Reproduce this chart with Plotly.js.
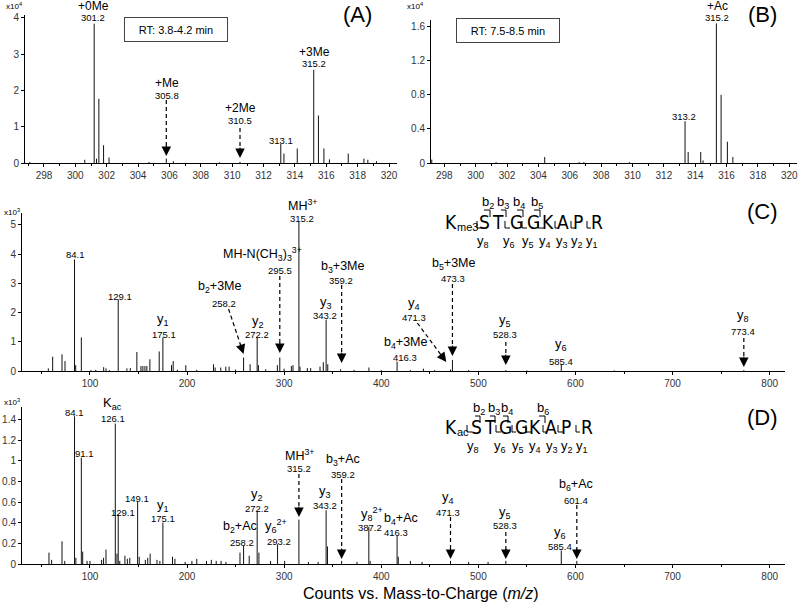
<!DOCTYPE html>
<html><head><meta charset="utf-8">
<script src="https://cdn.plot.ly/plotly-3.0.1.min.js"></script>
<style>html,body{margin:0;padding:0;background:#fff}#chart{width:800px;height:603px}</style>
</head><body><div id="chart"></div>
<script>
// ---------- data (m/z, intensity in units of the axis multiplier) ----------
const mzA  = [297.1, 300.6, 301.2, 301.35, 301.5, 301.8, 302.15, 304.7, 305.8, 306.25, 309.2, 310.5, 313.1, 313.3, 314.15, 315.2, 315.5, 315.85, 316.2, 317.4, 318.4, 318.65, 319.2];
const intA = [0.03, 0.09, 3.84, 0.12, 1.77, 0.49, 0.15, 0.03, 0.12, 0.05, 0.02, 0.03, 0.53, 0.26, 0.40, 2.57, 1.31, 0.40, 0.10, 0.26, 0.12, 0.09, 0.05];

const mzB  = [297.2, 301.3, 304.4, 306.6, 306.9, 309.8, 313.35, 313.55, 314.35, 314.5, 315.35, 315.65, 316.05, 316.4];
const intB = [0.04, 0.01, 0.07, 0.01, 0.01, 0.01, 0.49, 0.13, 0.13, 0.03, 1.64, 0.80, 0.25, 0.07];

const mzC  = [57.1, 61.6, 71.2, 74.3, 84.1, 85.3, 91.1, 101, 106, 114.1, 116.5, 120, 129.1, 138, 141.5, 148.3, 152.5, 154.5, 156.6, 158.6, 161.7, 171.3, 175.1, 184, 185.7, 190, 198.7, 210, 227.2, 228.9, 234.7, 239.9, 243.3, 250, 258.2, 264.9, 272.2, 273.5, 281, 293, 295.5, 299.9, 307.4, 309.1, 315.2, 316.3, 323.9, 327.3, 336.9, 340.3, 343.2, 344.9, 358.1, 372, 387.3, 400, 416.3, 430, 443.4, 455, 471.3, 473.3, 490, 528.3, 550, 585.4, 640, 773.4];
const intC = [0.09, 0.49, 0.57, 0.34, 3.82, 0.2, 1.15, 0.03, 0.04, 0.13, 0.09, 0.03, 2.45, 0.09, 0.1, 0.65, 0.17, 0.17, 0.17, 0.17, 0.4, 0.67, 1.15, 0.2, 0.34, 0.04, 0.2, 0.04, 0.23, 0.12, 0.12, 0.15, 0.15, 0.05, 0.46, 0.23, 1.15, 0.2, 0.06, 0.2, 0.46, 0.08, 0.17, 0.2, 5.1, 0.15, 0.1, 0.1, 0.15, 0.3, 1.76, 0.23, 0.06, 0.04, 0.12, 0.03, 0.32, 0.03, 0.08, 0.03, 0.05, 0.38, 0.03, 0.03, 0.02, 0.24, 0.02, 0.03];

const mzD  = [57.8, 60.5, 71.2, 74, 84.1, 85.5, 91.1, 92.5, 97, 100, 112, 114, 116.5, 126.1, 127.8, 129.1, 130.7, 136, 138.5, 141, 149.1, 150.7, 157, 159.5, 162, 169, 172, 175.1, 185, 187.5, 198, 205, 210, 220, 225, 230, 235, 240, 254.5, 258.2, 264, 272.2, 274, 286, 293.2, 300.5, 315.2, 325, 335, 343.2, 344.6, 359.2, 375, 387.2, 388.5, 416.3, 417.5, 430, 442, 471.3, 490, 510, 528.3, 585.4, 601.4];
const intD = [0.11, 0.04, 0.22, 0.03, 1.43, 0.06, 1.03, 0.12, 0.03, 0.03, 0.04, 0.06, 0.14, 1.36, 0.1, 0.48, 0.03, 0.08, 0.05, 0.06, 0.6, 0.07, 0.04, 0.06, 0.1, 0.04, 0.03, 0.40, 0.07, 0.05, 0.02, 0.03, 0.05, 0.03, 0.04, 0.03, 0.03, 0.02, 0.11, 0.18, 0.08, 0.51, 0.11, 0.03, 0.19, 0.03, 0.43, 0.02, 0.02, 0.52, 0.17, 0.03, 0.02, 0.36, 0.03, 0.27, 0.07, 0.03, 0.02, 0.03, 0.02, 0.02, 0.03, 0.13, 0.03];

const residues = ['K','S','T','G','G','K','A','P','R'];

// ---------- helpers ----------
const W = 800, H = 603;
const FONT = 'Arial, "Liberation Sans", Helvetica, sans-serif';
const NARROW = '"Liberation Sans Narrow", "Arial Narrow", "DejaVu Sans Condensed", Arial, sans-serif';
const px = p => p / W, py = p => 1 - p / H;

function sticks(mz, inten, xa, ya) {
  const x = [], y = [];
  mz.forEach((m, i) => { x.push(m, m, null); y.push(0, inten[i], null); });
  return {type:'scatter', mode:'lines', x, y, xaxis:xa, yaxis:ya,
          line:{color:'#111', width:1}, hoverinfo:'skip', showlegend:false};
}
const tickfont = {family:FONT, size:10, color:'#333'};
function xax(l, r, range, dtick, minorD, anchor) {
  return {domain:[px(l), px(r)], range, tick0:0, dtick, anchor,
    ticks:'outside', ticklen:3, tickwidth:1, tickcolor:'#000',
    showline:true, linecolor:'#000', linewidth:1, showgrid:false, zeroline:false,
    tickfont, minor:{ticks:'outside', ticklen:2, dtick:minorD, tick0:0, tickcolor:'#000', showgrid:false},
    fixedrange:true};
}
function yax(top, bot, range, dtick, anchor) {
  return {domain:[py(bot), py(top)], range, tick0:0, dtick, anchor,
    ticks:'outside', ticklen:3, tickwidth:1, tickcolor:'#000',
    showline:true, linecolor:'#000', linewidth:1, showgrid:false, zeroline:false,
    tickfont, fixedrange:true};
}
const annotations = [], shapes = [];
function lab(t, x, y, size, extra, fam) {
  annotations.push(Object.assign({text:t, xref:'paper', yref:'paper', x:px(x), y:py(y),
    xanchor:'center', yanchor:'middle', showarrow:false,
    font:{family:fam || FONT, size:size, color:'#000'}}, extra || {}));
}
// dashed arrow: tip at data m/z on axis xa, tip/tail heights in pixels, dx = tail x offset in px
function arrow(xa, mz, tail, tip, dx) {
  const dy = tail - tip, len = Math.hypot(dx, dy), ux = dx / len, uy = dy / len;
  const head = 9;
  shapes.push({type:'line', xref:xa, yref:'paper', xsizemode:'pixel', xanchor:mz,
    x0:dx, x1:ux * head, y0:py(tail), y1:py(tip + uy * head),
    line:{color:'#000', width:1.2, dash:'4px,3px'}});
  annotations.push({text:'', xref:xa, yref:'paper', x:mz, y:py(tip), showarrow:true,
    arrowhead:2, arrowsize:1.9, arrowwidth:1, arrowcolor:'#000', standoff:0,
    ax:ux * 12, ay:uy * 12});
}
function path(d) { shapes.push({type:'path', xref:'paper', yref:'paper', path:d, line:{color:'#000', width:1}}); }
function bBr(x0, x1, top, bot) { path(`M${px(x0)},${py(top)}L${px(x1)},${py(top)}L${px(x1)},${py(bot)}`); }
function yBr(x0, x1, top, bot) { path(`M${px(x0)},${py(top)}L${px(x0)},${py(bot)}L${px(x1)},${py(bot)}`); }

// ---------- panel A ----------
lab('x10<sup>4</sup>', 14, 6, 8);
lab('+0Me', 93, 6, 12); lab('301.2', 93, 18, 9.5);
lab('+Me', 167, 83, 12); lab('305.8', 167, 96, 9.5);
lab('+2Me', 240, 108, 12); lab('310.5', 240, 121, 9.5);
lab('313.1', 281, 140, 9.5);
lab('+3Me', 314, 52, 12); lab('315.2', 314, 64, 9.5);
lab('(A)', 357, 14, 22);
lab('RT: 3.8-4.2 min', 175.5, 29, 11, {bordercolor:'#444', borderwidth:1, borderpad:2, width:98, height:19, bgcolor:'#fff'});
arrow('x', 305.8, 100, 156, 0);
arrow('x', 310.5, 128, 158, 0);

// ---------- panel B ----------
lab('x10<sup>4</sup>', 415, 6, 8);
lab('+Ac', 717, 6, 12); lab('315.2', 717, 18, 9.5);
lab('313.2', 684, 116, 9.5);
lab('(B)', 762, 14, 22);
lab('RT: 7.5-8.5 min', 507.5, 31, 11, {bordercolor:'#444', borderwidth:1, borderpad:2, width:98, height:19, bgcolor:'#fff'});

// ---------- panel C ----------
lab('x10<sup>3</sup>', 12, 212, 8);
lab('84.1', 75, 254, 9.5);
lab('129.1', 120, 296, 9.5);
lab('y<sub>1</sub>', 163, 319, 13); lab('175.1', 164, 334, 9.5);
lab('b<sub>2</sub>+3Me', 219, 287, 12.5); lab('258.2', 224, 303, 9.5);
lab('y<sub>2</sub>', 258, 321, 13); lab('272.2', 257, 334, 9.5);
lab('MH-N(CH<sub>3</sub>)<sub>3</sub><sup>3+</sup>', 262, 254, 12.5); lab('295.5', 280, 270, 9.5);
lab('MH<sup>3+</sup>', 302, 205, 12.5); lab('315.2', 302, 218, 9.5);
lab('b<sub>3</sub>+3Me', 342, 267, 12.5); lab('359.2', 341, 280, 9.5);
lab('y<sub>3</sub>', 326, 302, 13); lab('343.2', 325, 315, 9.5);
lab('b<sub>4</sub>+3Me', 405, 343, 12.5); lab('416.3', 405, 357, 9.5);
lab('y<sub>4</sub>', 414, 303, 13); lab('471.3', 414, 317, 9.5);
lab('b<sub>5</sub>+3Me', 453, 264, 12.5); lab('473.3', 453, 278, 9.5);
lab('y<sub>5</sub>', 505, 320, 13); lab('528.3', 505, 334, 9.5);
lab('y<sub>6</sub>', 561, 345, 13); lab('585.4', 561, 361, 9.5);
lab('y<sub>8</sub>', 743, 315, 13); lab('773.4', 743, 331, 9.5);
lab('(C)', 762, 212, 22);
arrow('x3', 258.2, 309, 354, -15);
arrow('x3', 295.5, 276, 353, 0);
arrow('x3', 359.2, 285, 363, 0);
arrow('x3', 467, 323, 362, -29);
arrow('x3', 473.3, 284, 356, 0);
arrow('x3', 528.3, 342, 365, 0);
arrow('x3', 773.4, 338, 367, 0);
// sequence C
const seqCx = [451, 484, 498, 516, 533, 548, 563, 578, 597];
residues.forEach((r, i) => lab(r, seqCx[i], 222, 19, null, NARROW));
lab('me3', 467, 227, 11);
[[484,490],[501,506],[517,523],[534,540]].forEach(b => bBr(b[0], b[1], 210, 217));
[[477,482],[505,510],[522,527],[538,544],[555,559],[571,575],[587,591]].forEach(b => yBr(b[0], b[1], 221, 228));
[['b<sub>2</sub>',488],['b<sub>3</sub>',503],['b<sub>4</sub>',519],['b<sub>5</sub>',537]].forEach(b => lab(b[0], b[1], 202, 13));
[['y<sub>8</sub>',483],['y<sub>6</sub>',509],['y<sub>5</sub>',528],['y<sub>4</sub>',545],['y<sub>3</sub>',562],['y<sub>2</sub>',577],['y<sub>1</sub>',592]].forEach(b => lab(b[0], b[1], 241, 13));

// ---------- panel D ----------
lab('x10<sup>3</sup>', 12, 402, 8);
lab('84.1', 74, 412, 9.5);
lab('K<sub>ac</sub>', 112, 404, 13); lab('126.1', 113, 418, 9.5);
lab('91.1', 84, 453, 9.5);
lab('149.1', 137, 498, 9.5);
lab('129.1', 123, 512, 9.5);
lab('y<sub>1</sub>', 163, 505, 13); lab('175.1', 163, 518, 9.5);
lab('b<sub>2</sub>+Ac', 240, 527, 12.5); lab('258.2', 242, 542, 9.5);
lab('y<sub>2</sub>', 257, 494, 13); lab('272.2', 257, 508, 9.5);
lab('y<sub>6</sub><sup>2+</sup>', 276, 526, 13); lab('293.2', 279, 541, 9.5);
lab('MH<sup>3+</sup>', 299, 455, 12.5); lab('315.2', 299, 468, 9.5);
lab('b<sub>3</sub>+Ac', 343, 460, 12.5); lab('359.2', 343, 474, 9.5);
lab('y<sub>3</sub>', 325, 492, 13); lab('343.2', 325, 505, 9.5);
lab('y<sub>8</sub><sup>2+</sup>', 372, 514, 13); lab('387.2', 370, 527, 9.5);
lab('b<sub>4</sub>+Ac', 401, 519, 12.5); lab('416.3', 396, 532, 9.5);
lab('y<sub>4</sub>', 448, 497, 13); lab('471.3', 448, 512, 9.5);
lab('y<sub>5</sub>', 505, 512, 13); lab('528.3', 505, 525, 9.5);
lab('y<sub>6</sub>', 560, 532, 13); lab('585.4', 560, 546, 9.5);
lab('b<sub>6</sub>+Ac', 576, 485, 12.5); lab('601.4', 576, 500, 9.5);
lab('(D)', 762, 417, 22);
arrow('x4', 315.2, 474, 517, 0);
arrow('x4', 359.2, 479, 559, 0);
arrow('x4', 471.3, 517, 559, 0);
arrow('x4', 528.3, 532, 559, 0);
arrow('x4', 601.4, 505, 559, 0);
// sequence D
const seqDx = [451, 477, 490, 505, 521, 535, 551, 566, 587];
residues.forEach((r, i) => lab(r, seqDx[i], 427, 19, null, NARROW));
lab('ac', 463, 432, 11);
[[475,480],[490,495],[503,508],[539,545]].forEach(b => bBr(b[0], b[1], 416, 423));
[[467,472],[496,501],[512,516],[526,532],[543,547],[558,563],[576,580]].forEach(b => yBr(b[0], b[1], 425, 432));
[['b<sub>2</sub>',479],['b<sub>3</sub>',494],['b<sub>4</sub>',507],['b<sub>6</sub>',543]].forEach(b => lab(b[0], b[1], 408, 13));
[['y<sub>8</sub>',473],['y<sub>6</sub>',500],['y<sub>5</sub>',518],['y<sub>4</sub>',535],['y<sub>3</sub>',552],['y<sub>2</sub>',567],['y<sub>1</sub>',582]].forEach(b => lab(b[0], b[1], 446, 13));

// x-axis title
lab('Counts vs. Mass-to-Charge (<i>m/z</i>)', 421, 593, 16);

const data = [
  sticks(mzA, intA, 'x', 'y'),
  sticks(mzB, intB, 'x2', 'y2'),
  sticks(mzC, intC, 'x3', 'y3'),
  sticks(mzD, intD, 'x4', 'y4')
];

const layout = {
  width: W, height: H, margin:{l:0, r:0, t:0, b:0},
  paper_bgcolor:'#fff', plot_bgcolor:'rgba(0,0,0,0)', showlegend:false,
  font:{family:FONT, color:'#000'},
  xaxis:  xax(25, 397, [296.79, 320.51], 2, 1, 'y'),
  yaxis:  yax(15, 163, [0, 4.08], 1, 'x'),
  xaxis2: xax(431, 797, [297.15, 320.49], 2, 1, 'y2'),
  yaxis2: yax(20, 163, [0, 1.68], 0.4, 'x2'),
  xaxis3: xax(22, 785, [30, 815.8], 100, 50, 'y3'),
  yaxis3: yax(213, 371, [0, 5.41], 1, 'x3'),
  xaxis4: xax(22, 785, [30, 815.8], 100, 50, 'y4'),
  yaxis4: yax(407, 564, [0, 1.52], 0.2, 'x4'),
  annotations, shapes
};
Plotly.newPlot('chart', data, layout, {staticPlot:true, displayModeBar:false});
</script>
</body></html>
